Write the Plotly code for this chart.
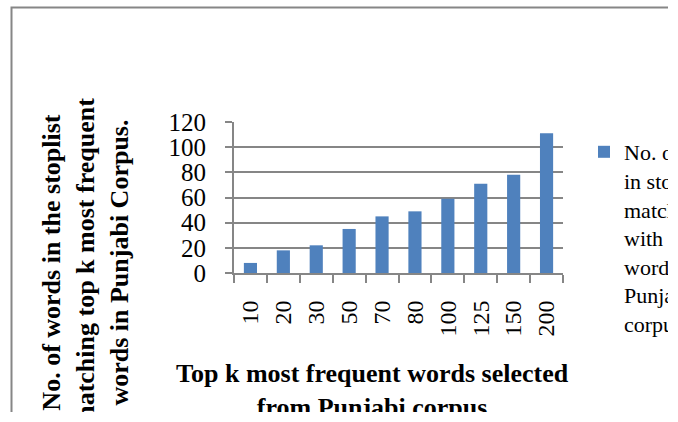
import plotly.graph_objects as go

# ---- data ----
categories = ["10", "20", "30", "50", "70", "80", "100", "125", "150", "200"]
values = [8, 18, 22, 35, 45, 49, 59, 71, 78, 111]
series_name = ("No. of words<br>in stoplist<br>matching<br>with top k<br>"
               "words in<br>Punjabi<br>corpus")
x_title = "Top k most frequent words selected<br>from Punjabi corpus"
y_title = ("No. of words in the stoplist<br>matching top k most frequent<br>"
           "words in Punjabi Corpus.")
y_tick_values = [0, 20, 40, 60, 80, 100, 120]

# ---- layout geometry (pixels) ----
W, H = 668, 412
L, R, T, B = 234, 105, 122, 139
PW, PH = W - L - R, H - T - B


def px_x(px):
    return (px - L) / PW


def px_y(py):
    return (H - B - py) / PH


FONT = "Liberation Serif, Times New Roman, serif"
GRAY = "#868686"

fig = go.Figure()
fig.add_trace(go.Bar(
    x=categories, y=values, name=series_name,
    marker=dict(color="#4F81BD", line=dict(width=0)),
    showlegend=True,
))

fig.update_layout(
    width=W, height=H,
    margin=dict(l=L, r=R, t=T, b=B, autoexpand=False),
    paper_bgcolor="white", plot_bgcolor="white",
    font=dict(family=FONT, color="black"),
    bargap=0.6,
    showlegend=True,
    legend=dict(
        x=px_x(584), y=px_y(131), xanchor="left", yanchor="top",
        valign="top", font=dict(family=FONT, size=22, color="black"),
        bgcolor="rgba(0,0,0,0)", borderwidth=0, maxheight=400,
    ),
    xaxis=dict(
        type="category", showgrid=False,
        showline=True, linecolor=GRAY, linewidth=2,
        ticks="outside", tickson="boundaries", ticklen=8,
        tickcolor=GRAY, tickwidth=2,
        tickangle=-90, tickfont=dict(family=FONT, size=24, color="black"),
        ticklabelstandoff=16,
    ),
    yaxis=dict(
        range=[0, 120], tickvals=y_tick_values,
        showgrid=True, gridcolor=GRAY, gridwidth=2,
        showline=True, linecolor=GRAY, linewidth=2,
        ticks="outside", ticklen=7, tickcolor=GRAY, tickwidth=2,
        tickfont=dict(family=FONT, size=25, color="black"),
        ticklabelstandoff=14, zeroline=False,
    ),
    shapes=[dict(
        type="rect", xref="paper", yref="paper",
        x0=px_x(11.5), x1=px_x(690), y0=px_y(440), y1=px_y(7.5),
        line=dict(color=GRAY, width=2), fillcolor="rgba(0,0,0,0)",
        layer="below",
    )],
    annotations=[
        dict(text=y_title, xref="paper", yref="paper",
             x=px_x(85), y=px_y(263), xanchor="center", yanchor="middle",
             textangle=-90, showarrow=False,
             font=dict(family=FONT, size=26, color="black", weight="bold")),
        dict(text=x_title, xref="paper", yref="paper",
             x=px_x(372), y=px_y(390), xanchor="center", yanchor="middle",
             showarrow=False,
             font=dict(family=FONT, size=26, color="black", weight="bold")),
    ],
)

fig.write_html("out.html")
